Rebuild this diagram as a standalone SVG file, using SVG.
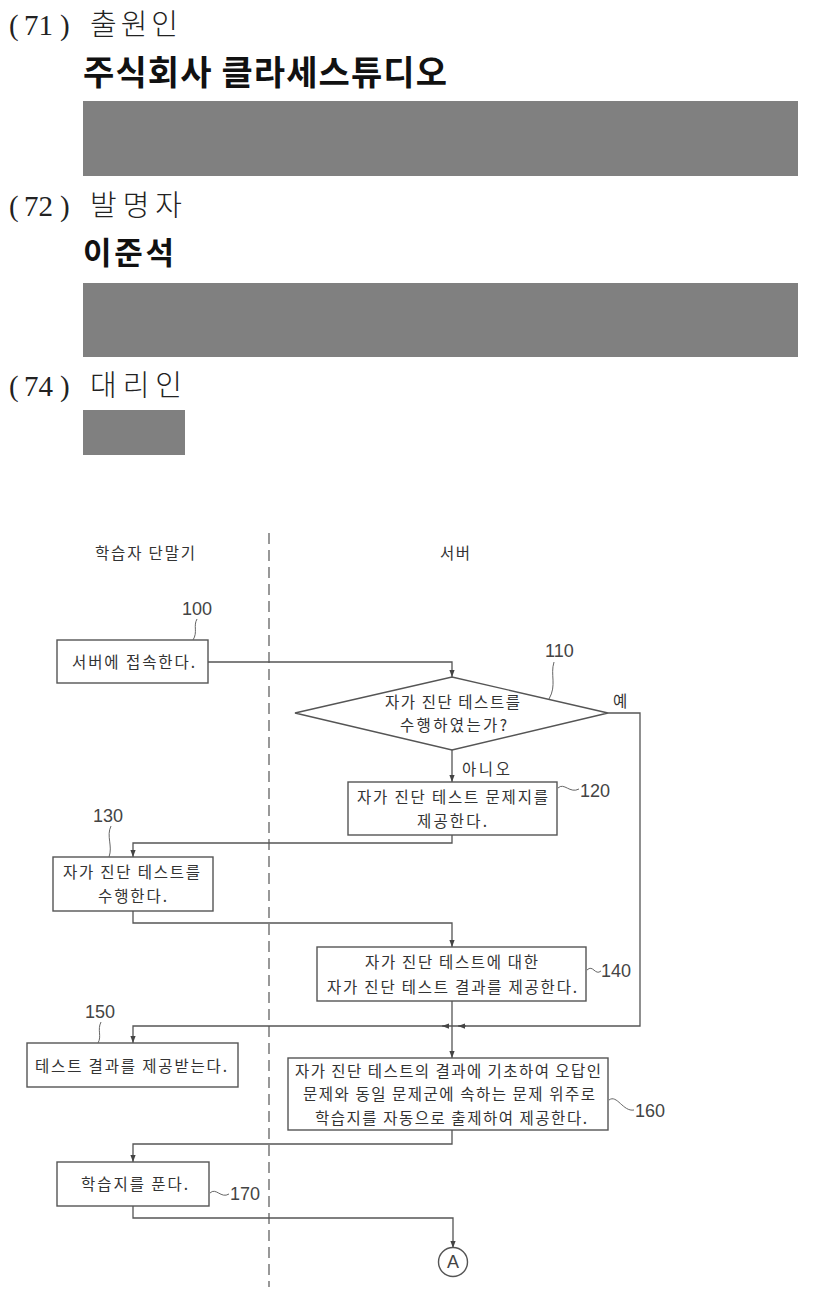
<svg xmlns="http://www.w3.org/2000/svg" width="816" height="1300" viewBox="0 0 816 1300">
<defs>
<style>
.hd{font-family:"Liberation Serif","Noto Sans CJK KR",serif;font-size:29px;fill:#222}
.hk{font-family:"Noto Sans CJK KR",sans-serif;font-weight:300;fill:#222}
.hb{font-family:"Noto Sans CJK KR",sans-serif;font-weight:bold;fill:#111}
.gray{fill:#808080}
.t{font-family:"Noto Sans CJK KR",sans-serif;font-size:15.5px;fill:#333}
.lb{font-family:"Liberation Sans","Noto Sans CJK KR",sans-serif;font-size:18px;fill:#444}
.box{fill:#fff;stroke:#555;stroke-width:1.4}
.ln{fill:none;stroke:#555;stroke-width:1.3}
.ld{fill:none;stroke:#666;stroke-width:1}
</style>
<marker id="ar" viewBox="0 0 8 8" refX="8" refY="4" markerWidth="7" markerHeight="7" markerUnits="userSpaceOnUse" orient="auto">
<path d="M0,1 L8,4 L0,7 Z" fill="#444"/>
</marker>
</defs>
<rect width="816" height="1300" fill="#fff"/>

<g id="header">
<text class="hd" y="35"><tspan x="9">(</tspan><tspan x="24">71</tspan><tspan x="60">)</tspan></text>
<text class="hk" x="90" y="35" font-size="29" textLength="88">출원인</text>
<text class="hb" x="83" y="85" font-size="34" textLength="364">주식회사 클라세스튜디오</text>
<rect class="gray" x="83" y="101" width="715" height="75"/>
<text class="hd" y="216"><tspan x="9">(</tspan><tspan x="24">72</tspan><tspan x="60">)</tspan></text>
<text class="hk" x="90" y="216" font-size="29" textLength="92">발명자</text>
<text class="hb" x="83" y="264" font-size="31" textLength="91">이준석</text>
<rect class="gray" x="83" y="283" width="715" height="74"/>
<text class="hd" y="396"><tspan x="9">(</tspan><tspan x="24">74</tspan><tspan x="60">)</tspan></text>
<text class="hk" x="90" y="396" font-size="29" textLength="92">대리인</text>
<rect class="gray" x="83" y="410" width="102" height="45"/>
</g>

<g id="lanes">
<line x1="269" y1="533" x2="269" y2="1287" stroke="#555" stroke-width="1.2" stroke-dasharray="11,6"/>
<text class="t" x="95" y="559" textLength="100">학습자 단말기</text>
<text class="t" x="440" y="559" textLength="30">서버</text>
</g>

<g id="connectors">
<path class="ln" d="M208,662 H452 V677" marker-end="url(#ar)"/>
<path class="ln" d="M452,750 V782" marker-end="url(#ar)"/>
<path class="ln" d="M608,713 H640 V1026 H133 V1043" marker-end="url(#ar)"/>
<path class="ln" d="M466,1026 H458" marker-end="url(#ar)"/>
<path class="ln" d="M448,1026 H442" marker-end="url(#ar)"/>
<path class="ln" d="M452,835 V843 H133 V857" marker-end="url(#ar)"/>
<path class="ln" d="M133,911 V923 H452 V947" marker-end="url(#ar)"/>
<path class="ln" d="M452,1001 V1058" marker-end="url(#ar)"/>
<path class="ln" d="M452,1130 V1144 H133 V1162" marker-end="url(#ar)"/>
<path class="ln" d="M133,1206 V1218 H453 V1248" marker-end="url(#ar)"/>
<text class="t" x="613" y="707" textLength="15">예</text>
<text class="t" x="462" y="775" textLength="48">아니오</text>
</g>

<g id="n100">
<rect class="box" x="57" y="640" width="151" height="43"/>
<text class="t" x="72" y="668" textLength="123">서버에 접속한다.</text>
<text class="lb" x="182" y="615">100</text>
<path class="ld" d="M197,619 C193,626 198,632 193,640"/>
</g>

<g id="n110">
<polygon class="box" points="295,713 452,677 608,713 452,750"/>
<text class="t" x="385" y="708" textLength="135">자가 진단 테스트를</text>
<text class="t" x="400" y="731" textLength="107">수행하였는가?</text>
<text class="lb" x="545" y="657">110</text>
<path class="ld" d="M554,662 C550,675 557,685 549,699"/>
</g>

<g id="n120">
<rect class="box" x="348" y="782" width="209" height="53"/>
<text class="t" x="357" y="803" textLength="191">자가 진단 테스트 문제지를</text>
<text class="t" x="417" y="827" textLength="70">제공한다.</text>
<path class="ld" d="M558,788 C564,782 570,794 579,789"/>
<text class="lb" x="580" y="797">120</text>
</g>

<g id="n130">
<rect class="box" x="53" y="857" width="160" height="54"/>
<text class="t" x="63" y="878" textLength="137">자가 진단 테스트를</text>
<text class="t" x="98" y="902" textLength="69">수행한다.</text>
<text class="lb" x="93" y="822">130</text>
<path class="ld" d="M111,826 C106,836 113,846 109,857"/>
</g>

<g id="n140">
<rect class="box" x="317" y="947" width="269" height="54"/>
<text class="t" x="365" y="968" textLength="173">자가 진단 테스트에 대한</text>
<text class="t" x="327" y="993" textLength="250">자가 진단 테스트 결과를 제공한다.</text>
<path class="ld" d="M587,970 C593,964 595,976 601,971"/>
<text class="lb" x="601" y="977">140</text>
</g>

<g id="n150">
<rect class="box" x="27" y="1043" width="211" height="44"/>
<text class="t" x="35" y="1072" textLength="192">테스트 결과를 제공받는다.</text>
<text class="lb" x="85" y="1018">150</text>
<path class="ld" d="M101,1022 C97,1030 102,1036 98,1043"/>
</g>

<g id="n160">
<rect class="box" x="288" y="1058" width="320" height="72"/>
<text class="t" x="295" y="1077" textLength="306">자가 진단 테스트의 결과에 기초하여 오답인</text>
<text class="t" x="303" y="1100" textLength="292">문제와 동일 문제군에 속하는 문제 위주로</text>
<text class="t" x="315" y="1124" textLength="272">학습지를 자동으로 출제하여 제공한다.</text>
<path class="ld" d="M609,1100 C617,1094 623,1112 634,1110"/>
<text class="lb" x="635" y="1117">160</text>
</g>

<g id="n170">
<rect class="box" x="57" y="1162" width="152" height="44"/>
<text class="t" x="81" y="1190" textLength="107">학습지를 푼다.</text>
<path class="ld" d="M210,1193 C216,1187 221,1199 229,1194"/>
<text class="lb" x="230" y="1200">170</text>
</g>

<g id="nA">
<circle class="box" cx="453" cy="1262" r="14.5"/>
<text class="lb" x="453" y="1268" text-anchor="middle" font-size="17">A</text>
</g>
</svg>
